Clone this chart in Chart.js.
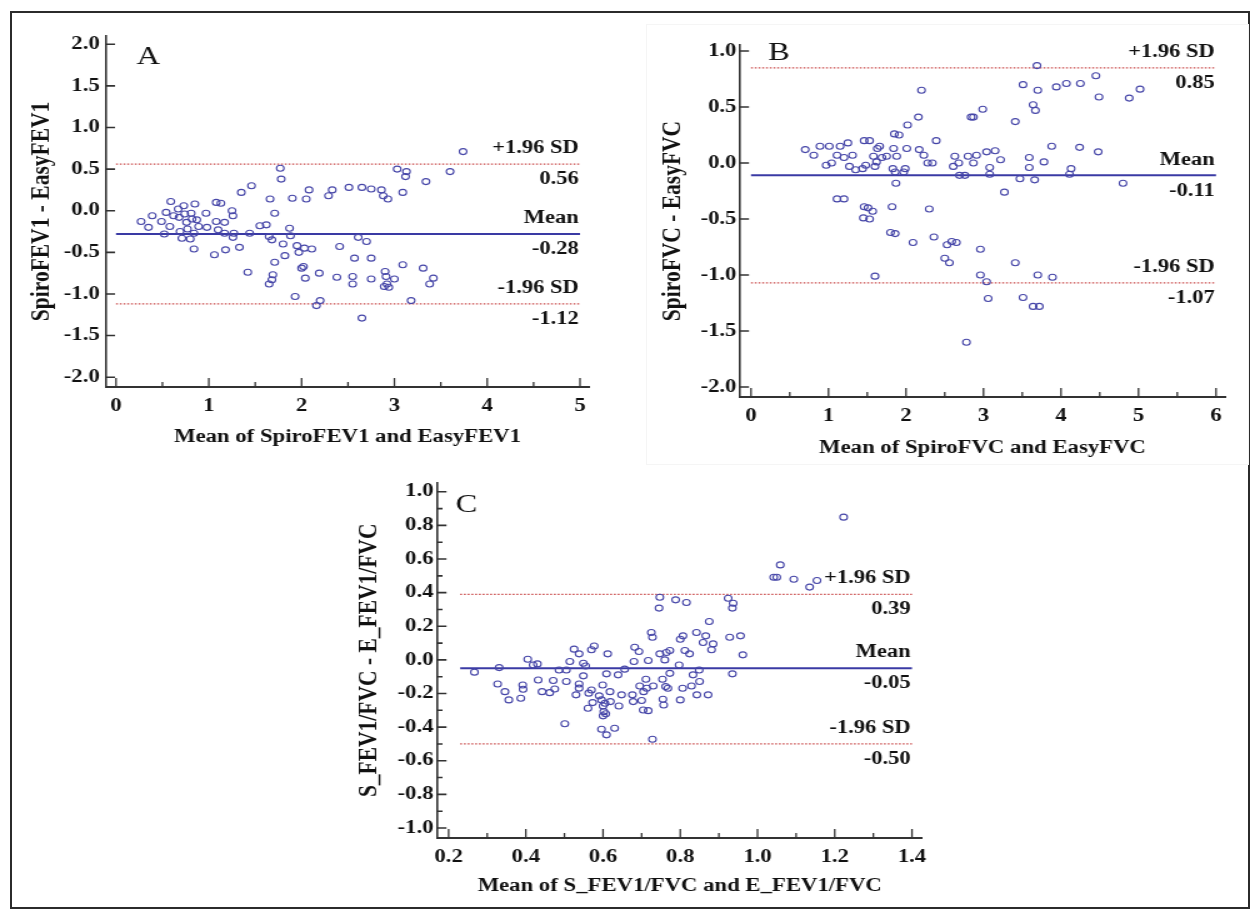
<!DOCTYPE html>
<html lang="en">
<head>
<meta charset="UTF-8">
<title>Bland-Altman plots</title>
<style>
  body { margin: 0; background: #fff; }
  .frame { position: absolute; left: 10px; top: 11px; width: 1236px; height: 894px; border: 2px solid #2b2b2b; }
  .boxB { position: absolute; left: 646px; top: 24px; width: 601px; height: 439px; border: 1px solid #f5f5f5; }
  /* the figure text is wider than tall, so each panel is stretched sideways */
  .panel { position: absolute; transform-origin: 0 0; transform: scaleX(1.25); }
</style>
</head>
<body>
<div class="frame"></div>
<div class="boxB"></div>
<div class="panel" style="left:20px;top:20px"><canvas id="chartA" width="480" height="437"></canvas></div>
<div class="panel" style="left:640px;top:20px"><canvas id="chartB" width="480" height="447"></canvas></div>
<div class="panel" style="left:330px;top:468px"><canvas id="chartC" width="496" height="440"></canvas></div>

<script src="https://cdn.jsdelivr.net/npm/chart.js"></script>
<script>
// A: FEV1
const aMean = [0.27,0.35,0.39,0.49,0.52,0.54,0.59,0.58,0.62,0.67,0.68,0.69,0.71,0.73,0.74,0.76,0.77,0.80,0.81,0.82,
  0.84,0.85,0.87,0.89,0.84,0.97,0.98,1.06,1.08,1.13,1.08,1.10,1.17,1.18,1.17,1.25,1.26,1.27,1.26,1.33,
  1.35,1.46,1.44,1.42,1.55,1.62,1.65,1.68,1.66,1.71,1.69,1.68,1.65,1.71,1.77,1.78,1.80,1.82,1.87,1.88,
  1.90,1.93,1.95,1.97,2.00,2.02,2.05,2.04,2.08,2.03,2.11,2.19,2.20,2.16,2.29,2.33,2.38,2.41,2.51,2.57,
  2.55,2.55,2.61,2.65,2.70,2.65,2.75,2.75,2.75,2.86,2.88,2.93,2.90,2.91,3.00,2.89,2.94,2.92,3.03,3.13,
  3.12,3.09,3.09,3.18,3.34,3.31,3.42,3.38,3.60,3.74];
const aDiff = [-0.13,-0.20,-0.06,-0.13,-0.28,-0.02,0.11,-0.19,-0.06,0.02,-0.08,-0.25,-0.33,0.06,-0.04,-0.14,-0.22,-0.34,-0.03,-0.10,
  -0.27,0.08,-0.11,-0.19,-0.46,-0.03,-0.20,-0.53,0.10,0.09,-0.13,-0.23,-0.14,-0.47,-0.27,0.00,-0.06,-0.27,-0.32,-0.44,
  0.22,0.30,-0.27,-0.74,-0.18,-0.17,-0.31,-0.35,0.14,-0.03,-0.77,-0.83,-0.88,-0.62,0.51,0.38,-0.40,-0.54,-0.21,-0.30,
  0.15,-1.03,-0.42,-0.50,-0.69,-0.67,0.14,-0.81,0.25,-0.45,-0.46,-0.75,-1.08,-1.14,0.18,0.25,-0.80,-0.43,0.28,-0.57,
  -0.79,-0.88,-0.32,0.28,-0.37,-1.29,0.26,-0.57,-0.82,0.25,0.18,0.14,-0.73,-0.79,-0.82,-0.91,-0.92,-0.88,0.50,0.47,
  0.41,0.22,-0.65,-1.08,0.35,-0.69,-0.81,-0.88,0.47,0.71];
const aLimits = [0.56, -0.28, -1.12];
const aXTicks = [0, 1, 2, 3, 4, 5];
const aYTicks = [-2, -1.5, -1, -0.5, 0, 0.5, 1, 1.5, 2];

// B: FVC
const bMean = [0.70,0.81,0.89,1.01,0.97,1.04,1.11,1.15,1.20,1.25,1.31,1.27,1.35,1.11,1.20,1.44,1.48,1.46,1.53,1.58,
  1.63,1.60,1.62,1.66,1.69,1.75,1.84,1.85,1.91,1.83,1.86,1.88,1.87,1.99,1.97,2.01,2.02,2.16,2.20,2.17,
  2.23,2.28,2.34,2.39,1.46,1.51,1.57,1.45,1.53,1.82,1.80,1.86,1.60,2.09,2.30,2.36,2.50,2.56,2.53,2.59,
  2.65,2.63,2.61,2.68,2.69,2.76,2.80,2.84,2.87,2.87,2.91,2.99,2.96,3.04,3.08,3.08,3.15,3.22,2.96,3.04,
  3.06,3.27,3.41,3.51,3.47,3.59,3.59,3.64,3.67,3.66,3.69,3.70,3.78,3.41,3.51,3.64,3.72,3.70,3.88,3.89,
  3.94,4.45,4.07,4.25,4.49,4.88,5.02,4.24,4.48,4.13,4.11,4.80,2.78];
const bDiff = [0.12,0.07,0.15,0.15,-0.02,0.00,0.07,0.15,0.05,0.18,0.07,-0.03,-0.06,-0.32,-0.32,-0.05,-0.02,0.20,0.20,0.06,
  0.13,-0.03,0.01,0.15,0.05,0.06,0.13,0.26,0.25,-0.05,-0.08,0.06,-0.18,-0.05,-0.08,0.13,0.34,0.41,0.65,0.12,
  0.07,0.00,0.00,0.20,-0.39,-0.40,-0.43,-0.49,-0.50,-0.39,-0.62,-0.63,-1.01,-0.71,-0.41,-0.66,-0.85,-0.89,-0.73,-0.70,
  -0.71,0.06,-0.03,0.00,-0.11,-0.11,0.06,0.41,0.41,0.00,0.07,0.48,-0.77,0.10,-0.04,-0.10,0.11,0.03,-1.00,-1.06,
  -1.21,-0.26,0.37,0.70,-0.14,0.05,-0.04,0.52,0.47,-0.15,0.87,0.65,0.01,-0.89,-1.20,-1.28,-1.28,-1.00,0.15,-1.02,
  0.68,0.78,0.71,0.71,0.59,0.58,0.66,0.14,0.10,-0.05,-0.10,-0.18,-1.60];
const bLimits = [0.85, -0.11, -1.07];
const bXTicks = [0, 1, 2, 3, 4, 5, 6];
const bYTicks = [-2, -1.5, -1, -0.5, 0, 0.5, 1];

// C: FEV1/FVC
const cMean = [0.267,0.331,0.327,0.346,0.356,0.387,0.392,0.393,0.405,0.419,0.430,0.432,0.442,0.462,0.471,0.475,0.486,0.505,0.505,0.501,
  0.514,0.525,0.538,0.549,0.549,0.538,0.538,0.530,0.555,0.570,0.563,0.573,0.561,0.570,0.577,0.590,0.599,0.596,0.600,0.605,
  0.602,0.607,0.600,0.596,0.609,0.612,0.609,0.618,0.619,0.630,0.639,0.641,0.648,0.656,0.676,0.678,0.680,0.682,0.693,0.695,
  0.700,0.704,0.705,0.711,0.713,0.717,0.717,0.725,0.728,0.730,0.728,0.745,0.747,0.747,0.754,0.755,0.760,0.757,0.762,0.764,
  0.768,0.773,0.773,0.788,0.797,0.800,0.800,0.806,0.807,0.812,0.816,0.824,0.829,0.833,0.842,0.843,0.849,1.223,1.059,1.042,
  1.050,1.094,1.135,1.154,0.924,0.937,0.935,0.875,0.866,0.859,0.885,0.881,0.928,0.956,0.962,0.935,0.850,0.872];
const cDiff = [-0.073,-0.046,-0.143,-0.189,-0.238,-0.228,-0.149,-0.175,0.004,-0.030,-0.024,-0.120,-0.189,-0.195,-0.123,-0.173,-0.060,-0.060,-0.129,-0.380,
  -0.010,0.064,0.036,-0.020,-0.095,-0.143,-0.168,-0.208,-0.036,-0.179,-0.198,-0.254,-0.288,0.060,0.083,-0.214,-0.149,-0.238,-0.274,-0.258,
  -0.308,-0.320,-0.333,-0.413,-0.446,0.036,-0.083,-0.189,-0.248,-0.407,-0.089,-0.274,-0.208,-0.055,-0.208,-0.248,-0.010,0.075,0.050,-0.155,
  -0.242,-0.298,-0.189,-0.115,-0.169,-0.302,-0.004,0.163,0.135,-0.155,-0.472,0.308,0.373,0.036,-0.115,-0.234,0.000,-0.268,-0.159,0.044,
  -0.169,0.056,-0.080,0.357,-0.030,0.123,-0.238,-0.169,0.143,0.056,0.341,0.036,-0.155,-0.089,0.163,-0.208,-0.060,0.849,0.565,0.492,
  0.492,0.480,0.433,0.472,0.367,0.337,0.308,0.228,0.143,0.103,0.095,0.060,0.135,0.143,0.030,-0.083,-0.129,-0.208];
const cLimits = [0.39, -0.05, -0.50];
const cXTicks = [0.2, 0.4, 0.6, 0.8, 1.0, 1.2, 1.4];
const cYTicks = [-1, -0.8, -0.6, -0.4, -0.2, 0, 0.2, 0.4, 0.6, 0.8, 1];

const limitNames = ['+1.96 SD', 'Mean', '-1.96 SD'];
const serif = '"Liberation Serif", "Times New Roman", serif';
const ink = '#111';
const textSize = 18.2;
const yTitleSize = 21.5;

// inward tick marks, limit labels and the panel letter
const marksPlugin = {
  id: 'marks',
  afterDraw(chart, args, o) {
    const {ctx, chartArea: a, scales: {x, y}} = chart;
    ctx.save();
    ctx.strokeStyle = '#333';
    ctx.lineWidth = 1.3;
    ctx.beginPath();
    o.xMajor.forEach(v => { const p = x.getPixelForValue(v); ctx.moveTo(p, a.bottom); ctx.lineTo(p, a.bottom - 9); });
    o.xMinor.forEach(v => { const p = x.getPixelForValue(v); ctx.moveTo(p, a.bottom); ctx.lineTo(p, a.bottom - 5); });
    ctx.stroke();
    ctx.lineWidth = 1.6;
    ctx.beginPath();
    o.yMajor.forEach(v => { const p = y.getPixelForValue(v); ctx.moveTo(a.left, p); ctx.lineTo(a.left + 7.2, p); });
    o.yMinor.forEach(v => { const p = y.getPixelForValue(v); ctx.moveTo(a.left, p); ctx.lineTo(a.left + 4, p); });
    ctx.stroke();

    ctx.fillStyle = ink;
    ctx.font = 'bold 18px ' + serif;
    ctx.textAlign = 'right';
    ctx.textBaseline = 'middle';
    const xr = x.getPixelForValue(o.lineTo) - 1;
    o.limits.forEach((v, i) => {
      const p = y.getPixelForValue(v);
      ctx.fillText(limitNames[i], xr, p - 15.5);
      ctx.fillText(v.toFixed(2), xr, p + 15.5);
    });

    ctx.font = '26px ' + serif;
    ctx.textAlign = 'left';
    ctx.fillText(o.letter, x.getPixelForValue(o.letterAt[0]), y.getPixelForValue(o.letterAt[1]));
    ctx.restore();
  }
};

function minorTicks(major) {
  const out = [];
  for (let i = 0; i < major.length - 1; i++) out.push((major[i] + major[i + 1]) / 2);
  return out;
}

function blandAltman(id, c) {
  const line = (v, style) => Object.assign({
    data: [{x: c.lineFrom, y: v}, {x: c.lineTo, y: v}],
    showLine: true, pointRadius: 0, order: 1, fill: false
  }, style);
  const sdStyle = {borderColor: '#c94a4a', borderWidth: 1.2, borderDash: [1.5, 1.5]};

  return new Chart(document.getElementById(id), {
    type: 'scatter',
    data: {
      datasets: [
        {
          data: c.xs.map((v, i) => ({x: v, y: c.ys[i]})),
          pointRadius: 3,
          pointBorderWidth: 1.1,
          pointBorderColor: '#4646a8',
          pointBackgroundColor: 'rgba(0,0,0,0)',
          order: 0
        },
        line(c.limits[0], sdStyle),
        line(c.limits[1], {borderColor: '#3a3aa4', borderWidth: 2}),
        line(c.limits[2], sdStyle)
      ]
    },
    options: {
      responsive: false,
      animation: false,
      devicePixelRatio: 1,
      layout: {padding: {left: 0, top: c.padTop, right: c.padRight, bottom: 0}},
      plugins: {
        legend: {display: false},
        tooltip: {enabled: false},
        marks: {
          xMajor: c.xTicks, xMinor: c.xMinor, yMajor: c.yTicks, yMinor: c.yMinor,
          limits: c.limits, lineTo: c.lineTo, letter: c.letter, letterAt: c.letterAt
        }
      },
      scales: {
        x: {
          type: 'linear', min: c.xRange[0], max: c.xRange[1],
          afterBuildTicks: s => { s.ticks = c.xTicks.map(v => ({value: v})); },
          afterFit: s => { s.height = 70; },
          grid: {display: false, drawTicks: false},
          border: {display: true, color: '#333', width: 2},
          ticks: {
            autoSkip: false, maxRotation: 0, padding: 8.8, color: ink,
            font: {family: serif, size: textSize, weight: 'bold'},
            callback: v => c.xFmt(v)
          },
          title: {
            display: true, text: c.xTitle, color: ink,
            font: {family: serif, size: textSize, weight: 'bold'},
            padding: {top: 0, bottom: c.xTitlePad}
          }
        },
        y: {
          type: 'linear', min: c.yRange[0], max: c.yRange[1],
          afterBuildTicks: s => { s.ticks = c.yTicks.map(v => ({value: v})); },
          afterFit: s => { s.width = c.yWidth; },
          grid: {display: false, drawTicks: false},
          border: {display: true, color: '#333', width: 1.6},
          ticks: {
            autoSkip: false, padding: c.yTickPad, color: ink,
            font: {family: serif, size: textSize, weight: 'bold'},
            callback: v => v.toFixed(1)
          },
          title: {
            display: true, text: c.yTitle, color: ink,
            font: {family: serif, size: yTitleSize, weight: 'bold'},
            padding: {top: c.yTitlePad, bottom: 0}
          }
        }
      }
    },
    plugins: [marksPlugin]
  });
}

blandAltman('chartA', {
  xs: aMean, ys: aDiff, limits: aLimits, lineFrom: 0, lineTo: 5,
  xTicks: aXTicks, xMinor: minorTicks(aXTicks), yTicks: aYTicks, yMinor: [],
  xRange: [-0.108, 5.097], yRange: [-2.118, 2.1],
  xFmt: v => String(v),
  xTitle: 'Mean of SpiroFEV1 and EasyFEV1', yTitle: 'SpiroFEV1 - EasyFEV1',
  padTop: 10, padRight: 24.8, yWidth: 68.8, yTickPad: 5, yTitlePad: 4.7, xTitlePad: 9.1,
  letter: 'A', letterAt: [0.22, 1.85]
});

blandAltman('chartB', {
  xs: bMean, ys: bDiff, limits: bLimits, lineFrom: 0, lineTo: 6,
  xTicks: bXTicks, xMinor: minorTicks(bXTicks), yTicks: bYTicks, yMinor: [],
  xRange: [-0.142, 6.116], yRange: [-2.089, 1.054],
  xFmt: v => String(v),
  xTitle: 'Mean of SpiroFVC and EasyFVC', yTitle: 'SpiroFVC - EasyFVC',
  padTop: 25, padRight: 12, yWidth: 80, yTickPad: 2.8, yTitlePad: 13.5, xTitlePad: 8.1,
  letter: 'B', letterAt: [0.22, 0.98]
});

blandAltman('chartC', {
  xs: cMean, ys: cDiff, limits: cLimits, lineFrom: 0.23, lineTo: 1.4,
  xTicks: cXTicks, xMinor: minorTicks(cXTicks), yTicks: cYTicks, yMinor: minorTicks(cYTicks),
  xRange: [0.1713, 1.426], yRange: [-1.0595, 1.054],
  xFmt: v => v.toFixed(1),
  xTitle: 'Mean of S_FEV1/FVC and E_FEV1/FVC', yTitle: 'S_FEV1/FVC - E_FEV1/FVC',
  padTop: 14.7, padRight: 22.4, yWidth: 86, yTickPad: 3.2, yTitlePad: 18.7, xTitlePad: 10.4,
  letter: 'C', letterAt: [0.218, 0.92]
});
</script>
</body>
</html>
